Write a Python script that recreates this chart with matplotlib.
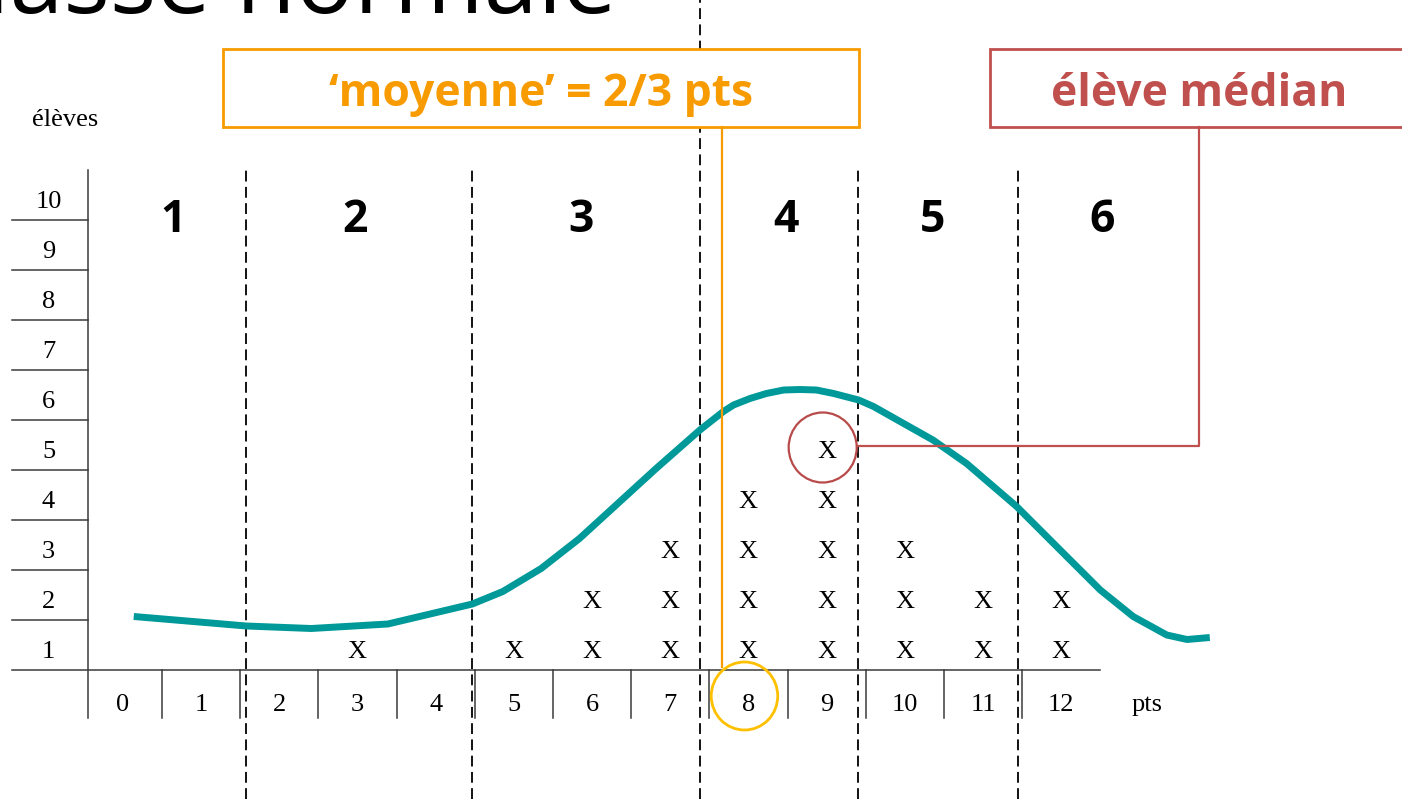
import matplotlib
matplotlib.use("Agg")
import matplotlib.pyplot as plt
from matplotlib.patches import Rectangle, Ellipse

# data
points = list(range(13))
students = [0, 0, 0, 1, 0, 1, 2, 3, 4, 5, 3, 2, 2]
count_ticks = list(range(1, 11))
group_names = ["1", "2", "3", "4", "5", "6"]
group_centers = [1.14, 3.47, 6.36, 8.98, 10.85, 13.02]
separators = [2.07, 4.97, 7.88, 9.9, 11.95]

# hand drawn "normal" curve (pts, élèves)
curve_x = [0.64, 2.08, 2.91, 3.89, 4.97, 5.36, 5.85, 6.34, 6.83, 7.32,
           7.88, 8.18, 8.31, 8.52, 8.73, 8.95, 9.16, 9.37, 9.59, 9.91,
           10.10, 10.44, 10.86, 11.29, 11.93, 12.57, 13.00, 13.42, 13.85,
           14.11, 14.40]
curve_y = [1.07, 0.88, 0.83, 0.92, 1.32, 1.57, 2.03, 2.63, 3.33, 4.03,
           4.80, 5.17, 5.30, 5.43, 5.53, 5.60, 5.61, 5.60, 5.53, 5.40,
           5.27, 4.97, 4.60, 4.13, 3.27, 2.27, 1.60, 1.07, 0.70,
           0.61, 0.65]

median_pts = 9
median_rank = 5
mean_pts = 8

W, H = 1402, 799
X0, SX = 83.7, 78.2   # pixel of pts=0 and pixels per pt
Y0, SY = 670, 50      # pixel of 0 students and pixels per student

serif = "Liberation Serif"
sans = "Open Sans"
orange = "#F79B00"
red = "#C0504D"
teal = "#009999"
line_col = "#3a3a3a"

fig = plt.figure(figsize=(W / 100, H / 100), dpi=100)
ax = fig.add_axes([0, 0, 1, 1])
ax.set_xlim(-X0 / SX, (W - X0) / SX)
ax.set_ylim(-(H - Y0) / SY, Y0 / SY)
ax.axis("off")
ymin, ymax = ax.get_ylim()

# table: axes and cells
left = -0.92
bottom = -0.96
ax.plot([left, len(points)], [0, 0], color=line_col, lw=1.1)
ax.plot([0.05, 0.05], [bottom, 10], color=line_col, lw=1.1)
for k in count_ticks[:-1]:
    ax.plot([left, 0.05], [k, k], color=line_col, lw=1.1)
for p in points[1:]:
    ax.plot([p, p], [0, bottom], color=line_col, lw=1.1)

for k in count_ticks:
    ax.text(-0.45, k - 0.65, str(k), ha="center", va="center",
            fontsize=19, family=serif)
for p in points:
    ax.text(p + 0.5, -0.7, str(p), ha="center", va="center",
            fontsize=19, family=serif)
ax.text(-0.24, 11.0, "élèves", ha="center", va="center", fontsize=19, family=serif)
ax.text(13.6, -0.7, "pts", ha="center", va="center", fontsize=19, family=serif)

# the X marks, one per student
for p, n in zip(points, students):
    for r in range(1, n + 1):
        ax.text(p + 0.5, r - 0.65, "X", ha="center", va="center",
                fontsize=19, family=serif)

# group separators and numbers
for s in separators:
    y_top = ymax if round(s) == mean_pts else 10
    ax.plot([s, s], [ymin, y_top], color="black", lw=1.3,
            linestyle=(0, (6, 3)))
for name, c in zip(group_names, group_centers):
    ax.text(c, 9.0, name, ha="center", va="center",
            fontsize=32, fontweight="bold", family=sans)

ax.plot(curve_x, curve_y, color=teal, lw=5, solid_joinstyle="round",
        solid_capstyle="butt", zorder=3)

# circles on median student and mean column
ax.add_patch(Ellipse((median_pts + 0.45, median_rank - 0.55), 0.87, 1.4,
                     fill=False, edgecolor="#B84A4A", lw=1.6, zorder=4))
ax.add_patch(Ellipse((mean_pts + 0.45, -0.52), 0.85, 1.36,
                     fill=False, edgecolor="#FFC000", lw=2, zorder=4))

# overlay in pixel units for the slide decorations
lay = fig.add_axes([0, 0, 1, 1], facecolor="none")
lay.set_xlim(0, W)
lay.set_ylim(H, 0)
lay.axis("off")

lay.text(617, 13, "Classe normale", ha="right", va="baseline",
         fontsize=70, family=sans)

lay.add_patch(Rectangle((223, 49), 636, 78, facecolor="white",
                        edgecolor=orange, lw=2))
lay.text(541, 106, "‘moyenne’ = 2/3 pts", ha="center", va="baseline",
         fontsize=32, fontweight="bold", color=orange, family=sans)
lay.plot([722, 722], [127, 667], color=orange, lw=1.6)

lay.add_patch(Rectangle((990, 49), 440, 78, facecolor="white",
                        edgecolor=red, lw=2))
lay.text(1199, 106, "élève médian", ha="center", va="baseline",
         fontsize=32, fontweight="bold", color=red, family=sans)
lay.plot([1199, 1199, 858], [127, 446, 446], color=red, lw=1.6)

fig.savefig("out.png", dpi=100)
